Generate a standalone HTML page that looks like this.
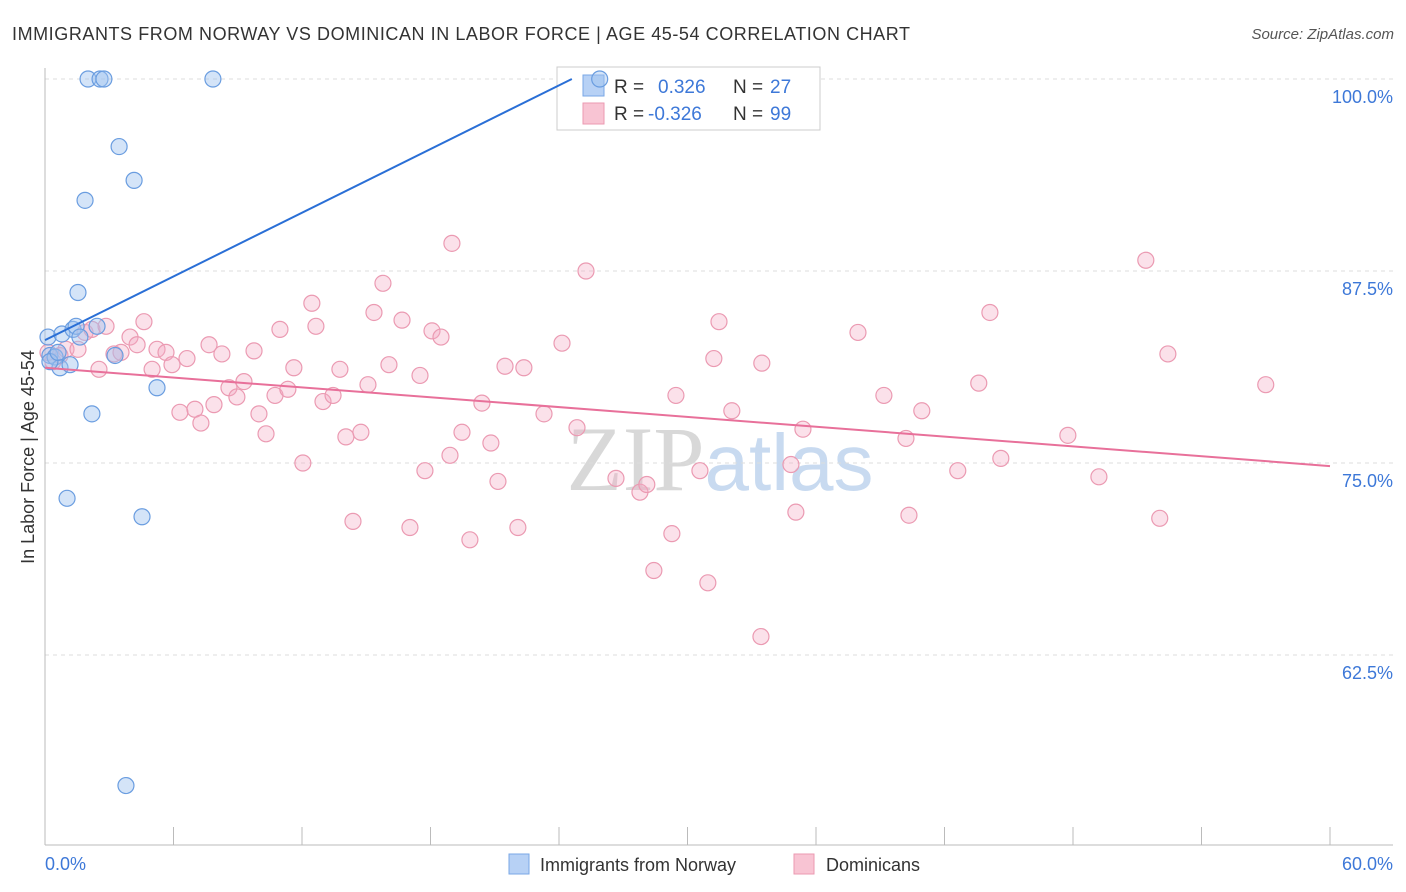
<!DOCTYPE html>
<html><head><meta charset="utf-8"><style>
body{margin:0;background:#fff;font-family:"Liberation Sans",sans-serif;}
svg{display:block}
</style></head><body>
<svg id="chart" width="1406" height="892" font-family="Liberation Sans, sans-serif">
<text x="12" y="40" font-size="18" fill="#333" textLength="898" lengthAdjust="spacing">IMMIGRANTS FROM NORWAY VS DOMINICAN IN LABOR FORCE | AGE 45-54 CORRELATION CHART</text>
<text x="1394" y="39" font-size="15" fill="#555" font-style="italic" text-anchor="end">Source: ZipAtlas.com</text>
<text x="720" y="490" font-size="92" fill="#ddd" text-anchor="middle" font-family="Liberation Serif, serif"><tspan fill="#d8d8d8">ZIP</tspan><tspan fill="#c8daf0" font-family="Liberation Sans, sans-serif" font-size="80">atlas</tspan></text>
<text transform="translate(34,457) rotate(-90)" font-size="18" fill="#333" text-anchor="middle">In Labor Force | Age 45-54</text>
<g id="grid"></g>
<g>
<rect x="557" y="67" width="263" height="63" fill="#fff" stroke="#ccc"/>
<rect x="583" y="75" width="21" height="21" fill="#b7d1f5" stroke="#7aa7e6"/>
<rect x="583" y="103" width="21" height="21" fill="#f8c4d3" stroke="#eb9ab2"/>
<text x="614" y="93" font-size="19" fill="#333">R =</text><text x="658" y="93" font-size="19" fill="#3d78d8">0.326</text>
<text x="733" y="93" font-size="19" fill="#333">N =</text><text x="770" y="93" font-size="19" fill="#3d78d8">27</text>
<text x="614" y="120" font-size="19" fill="#333">R =</text><text x="648" y="120" font-size="19" fill="#3d78d8">-0.326</text>
<text x="733" y="120" font-size="19" fill="#333">N =</text><text x="770" y="120" font-size="19" fill="#3d78d8">99</text>
</g>
<g id="marks"></g>
<g>
<rect x="509" y="854" width="20" height="20" fill="#b7d1f5" stroke="#7aa7e6"/>
<text x="540" y="871" font-size="18" fill="#333">Immigrants from Norway</text>
<rect x="794" y="854" width="20" height="20" fill="#f8c4d3" stroke="#eb9ab2"/>
<text x="826" y="871" font-size="18" fill="#333">Dominicans</text>
</g>
<text x="45" y="870" font-size="18" fill="#3d78d8">0.0%</text>
<text x="1393" y="870" font-size="18" fill="#3d78d8" text-anchor="end">60.0%</text>
</svg>
<script>
const yTicks=[100,87.5,75,62.5];
const yTickLabels=["100.0%","87.5%","75.0%","62.5%"];
const blueX=[0.14,0.23,0.47,0.70,0.79,1.17,1.31,1.45,1.54,1.63,1.87,2.01,2.19,2.43,2.57,2.75,3.27,3.46,4.16,4.53,5.23,7.84,1.03,3.78,25.9,0.23,0.61];
const blueY=[83.2,82.0,81.9,81.2,83.4,81.4,83.7,83.9,86.1,83.2,92.1,100,78.2,83.9,100,100,82.0,95.6,93.4,71.5,79.9,100,72.7,54.0,100,81.6,82.2];
const pinkX=[0.37,0.70,0.98,1.54,1.87,2.19,2.52,2.85,3.22,3.55,3.97,4.30,4.62,5.00,5.23,5.65,5.93,6.30,6.63,7.00,7.28,7.66,7.89,8.26,8.59,8.96,9.29,9.76,9.99,10.32,10.74,10.97,11.34,11.62,12.04,12.46,12.65,12.98,13.45,13.77,14.05,14.38,14.75,15.08,15.36,15.78,16.06,16.67,17.04,17.51,17.74,18.07,18.49,18.91,19.0,19.47,19.84,20.40,20.82,21.15,21.48,22.08,22.36,23.30,24.14,24.84,25.26,26.66,27.78,28.10,28.43,29.27,29.46,30.58,30.95,31.23,31.47,32.07,33.43,33.47,34.83,35.06,35.39,37.96,39.17,40.20,40.34,40.94,42.62,43.60,44.12,44.63,47.76,49.21,51.40,52.05,52.43,57.0,0.14];
const pinkY=[81.6,82.0,82.4,82.4,83.5,83.7,81.1,83.9,82.1,82.2,83.2,82.7,84.2,81.1,82.4,82.2,81.4,78.3,81.8,78.5,77.6,82.7,78.8,82.1,79.9,79.3,80.3,82.3,78.2,76.9,79.4,83.7,79.8,81.2,75.0,85.4,83.9,79.0,79.4,81.1,76.7,71.2,77.0,80.1,84.8,86.7,81.4,84.3,70.8,80.7,74.5,83.6,83.2,75.5,89.3,77.0,70.0,78.9,76.3,73.8,81.3,70.8,81.2,78.2,82.8,77.3,87.5,74.0,73.1,73.6,68.0,70.4,79.4,74.5,67.2,81.8,84.2,78.4,63.7,81.5,74.9,71.8,77.2,83.5,79.4,76.6,71.6,78.4,74.5,80.2,84.8,75.3,76.8,74.1,88.2,71.4,82.1,80.1,82.2];
const blueTrend=[0,83.0,24.6,100];
const pinkTrend=[0,81.2,60,74.8];

const NS="http://www.w3.org/2000/svg";
const X0=45,X1=1330,Y100=79,PXY=192/12.5;
const sx=v=>X0+v*(X1-X0)/60;
const sy=v=>Y100+(100-v)*PXY;
function mk(tag,attrs,parent){const e=document.createElementNS(NS,tag);for(const k in attrs)e.setAttribute(k,attrs[k]);parent.appendChild(e);return e;}
const grid=document.getElementById('grid'),marks=document.getElementById('marks');
yTicks.forEach((t,i)=>{
  const l=mk('line',{x1:X0,x2:1393,y1:sy(t),y2:sy(t),stroke:'#ddd','stroke-dasharray':'4,4'},grid);
  
  
  const tx=mk('text',{x:1393,y:sy(t)+24,'font-size':18,fill:'#3d78d8','text-anchor':'end'},grid);
  tx.textContent=yTickLabels[i];
  
  
});
const ax=mk('line',{x1:X0,x2:X0,y1:68,y2:845,stroke:'#bbb'},grid);


const bx=mk('line',{x1:X0,x2:1393,y1:845,y2:845,stroke:'#bbb'},grid);


for(let k=0;k<=10;k++){
  const tk=mk('line',{x1:sx(k*6),x2:sx(k*6),y1:827,y2:845,stroke:'#bbb'},grid);
  
  
}
pinkX.forEach((x,i)=>{
  const c=mk('circle',{cx:sx(x),cy:sy(pinkY[i]),r:8,fill:'rgba(244,170,195,0.35)',stroke:'#eb9ab2','stroke-width':1.2},marks);
  
  
});
blueX.forEach((x,i)=>{
  const c=mk('circle',{cx:sx(x),cy:sy(blueY[i]),r:8,fill:'rgba(160,195,240,0.45)',stroke:'#6a9de0','stroke-width':1.2},marks);
  
  
});
const bl=mk('line',{x1:sx(blueTrend[0]),y1:sy(blueTrend[1]),x2:sx(blueTrend[2]),y2:sy(blueTrend[3]),stroke:'#2a6fd6','stroke-width':2},marks);


const pl=mk('line',{x1:sx(pinkTrend[0]),y1:sy(pinkTrend[1]),x2:sx(pinkTrend[2]),y2:sy(pinkTrend[3]),stroke:'#e8709a','stroke-width':2},marks);


</script>
</body></html>
